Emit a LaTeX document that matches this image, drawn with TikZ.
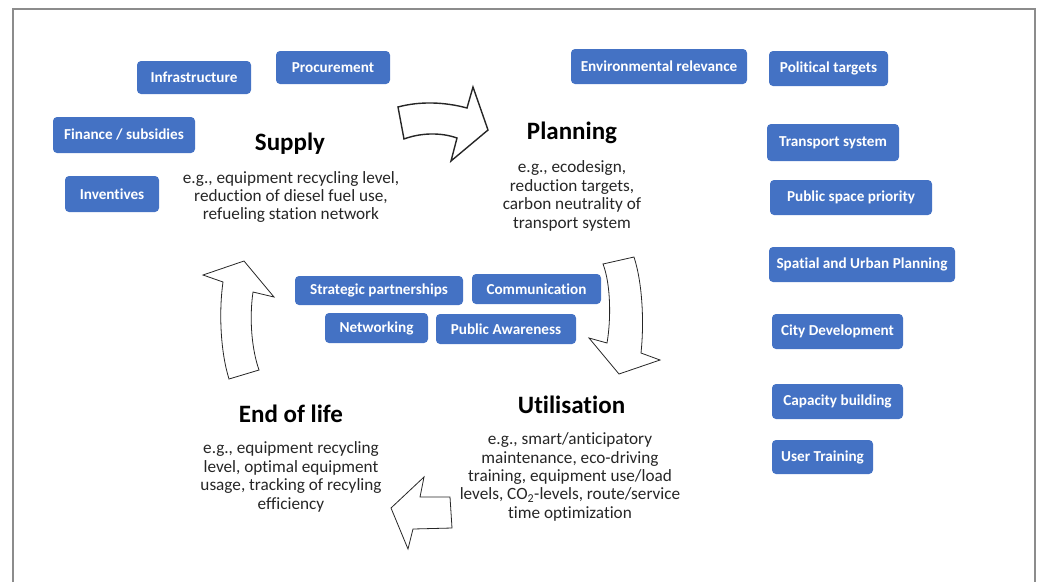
\documentclass[tikz,border=0pt]{standalone}
\usepackage{fontspec}
\setmainfont{Carlito}[Ligatures=NoCommon]
\definecolor{boxblue}{HTML}{4472C4}
\definecolor{framegray}{HTML}{8C8C8C}
\definecolor{bodygray}{HTML}{262626}
\tikzset{
  blockbox/.style={fill=boxblue, rounded corners=4pt, text=white, inner sep=0pt,
    font=\bfseries\fontsize{15.2}{17}\selectfont, minimum height=34pt},
  headtext/.style={font=\bfseries\fontsize{25}{28}\selectfont},
  bodytext/.style={align=center, text=bodygray, font=\fontsize{17.2}{18.4}\selectfont},
  cyclearrow/.style={draw=black!85, fill=white, line width=.8pt, line join=miter}
}
\begin{document}
\begin{tikzpicture}[x=1pt, y=-1pt]
\useasboundingbox (0,0) rectangle (1038,582);
\draw[framegray, line width=2pt] (13,582) |- (1035,9) -- (1035,582);
% supply
\node[blockbox, minimum width=114pt, minimum height=33pt] (infra) at (194,77.5) {Infrastructure};
\node[blockbox, minimum width=114pt, minimum height=33pt] (procure) at (333,67.5) {Procurement};
\node[blockbox, minimum width=142pt, minimum height=36pt] (finance) at (124,135) {Finance / subsidies};
\node[blockbox, minimum width=94pt, minimum height=36pt] (incent) at (112,194) {Inventives};
\node[headtext] (supply) at (290,144) {Supply};
\node[bodytext] (supplytxt) at (291,197) {e.g., equipment recycling level,\\reduction of diesel fuel use,\\refueling station network};
% planning
\node[blockbox, minimum width=176pt, minimum height=35pt] (envrel) at (659,66.5) {Environmental relevance};
\node[blockbox, minimum width=119pt, minimum height=35pt] (poltarg) at (828.5,68.5) {Political targets};
\node[blockbox, minimum width=132pt, minimum height=37pt] (transp) at (833,142.5) {Transport system};
\node[blockbox, minimum width=162pt, minimum height=35pt] (pubspace) at (851,197.5) {Public space priority};
\node[blockbox, minimum width=186pt, minimum height=35pt] (spatial) at (862,264.5) {Spatial and Urban Planning};
\node[blockbox, minimum width=131pt, minimum height=35pt] (citydev) at (837.5,331.5) {City Development};
\node[blockbox, minimum width=131pt, minimum height=35pt] (capbuild) at (837.5,401.5) {Capacity building};
\node[blockbox, minimum width=101pt, minimum height=34pt] (usertrain) at (822.5,457) {User Training};
\node[headtext] (planning) at (572,133) {Planning};
\node[bodytext] (planningtxt) at (572,196) {e.g., ecodesign,\\reduction targets,\\carbon neutrality of\\transport system};
% middle
\node[blockbox, minimum width=168pt, minimum height=29pt] (strat) at (379,290.5) {Strategic partnerships};
\node[blockbox, minimum width=129pt, minimum height=30pt] (comm) at (536.5,289) {Communication};
\node[blockbox, minimum width=103pt, minimum height=30pt] (netw) at (376.5,328) {Networking};
\node[blockbox, minimum width=140pt, minimum height=30pt] (pubaware) at (506,329) {Public Awareness};
% utilisation and end of life
\node[headtext] (util) at (571.5,405) {Utilisation};
\node[bodytext] (utiltxt) at (570,477) {e.g., smart/anticipatory\\maintenance, eco-driving\\training, equipment use/load\\levels, CO\textsubscript{2}-levels, route/service\\time optimization};
\node[headtext] (eol) at (291,414) {End of life};
\node[bodytext] (eoltxt) at (291,477) {e.g., equipment recycling\\level, optimal equipment\\usage, tracking of recyling\\efficiency};
% cycle arrows
\draw[cyclearrow, line width=1.4pt] (398,107) .. controls (420,101) and (445,102) .. (467,108) -- (473,87) -- (488,130)
  -- (451,161) -- (457,138) .. controls (440,132) and (420,133) .. (404,139) -- cycle;
\draw[cyclearrow] (603,264) -- (634,257) .. controls (643,285) and (644,325) .. (641,353) -- (660,360) -- (619,374)
  -- (589,338) -- (607,343) .. controls (611,320) and (611,285) .. (603,264) -- cycle;
\draw[cyclearrow] (424,477) -- (420,497) -- (450,497) -- (452,528) -- (413,529) -- (408,549) -- (391,508) -- cycle;
\draw[cyclearrow] (244,261) -- (274,297) -- (253,292) .. controls (249,320) and (252,350) .. (259,370) -- (229,379)
  .. controls (220,350) and (219,310) .. (223,282) -- (203,275) -- cycle;
\end{tikzpicture}
\end{document}
